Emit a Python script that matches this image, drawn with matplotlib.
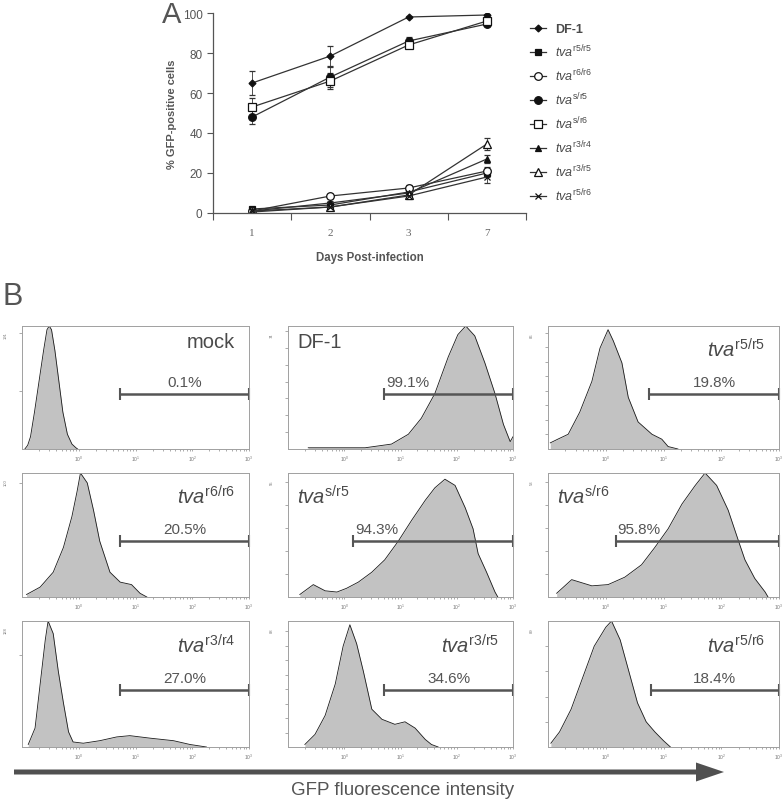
import matplotlib
matplotlib.use("Agg")
import matplotlib.pyplot as plt
import numpy as np
from matplotlib.lines import Line2D
from matplotlib.ticker import LogLocator, NullFormatter, FixedLocator

plt.rcParams['font.family'] = ['Liberation Sans', 'DejaVu Sans']
plt.rcParams['mathtext.fontset'] = 'custom'
plt.rcParams['mathtext.rm'] = 'Liberation Sans'
plt.rcParams['mathtext.it'] = 'Liberation Sans:italic'
plt.rcParams['mathtext.bf'] = 'Liberation Sans:bold'

TXT = "#4a4a4a"

# ---------------- panel A data ----------------
DAYS = ["1", "2", "3", "7"]
SERIES = ["DF-1", "r5/r5", "r6/r6", "s/r5", "s/r6", "r3/r4", "r3/r5", "r5/r6"]
df1 = [65, 78.5, 98, 99]
r5r5 = [2, 4, 10.5, 20]
r6r6 = [1, 8.5, 12.5, 21]
sr5 = [48, 68, 86, 94.5]
sr6 = [53, 66, 84, 96]
r3r4 = [1, 5, 10, 27]
r3r5 = [0.5, 3, 9, 34.5]
r5r6 = [1, 3, 8.5, 18]
err_df1 = [6, 5, 0.6, 0.6]
err_r5r5 = [0.8, 0.8, 1.5, 2]
err_r6r6 = [0.5, 1, 1.5, 2]
err_sr5 = [3.5, 5, 2, 1]
err_sr6 = [4.5, 4, 1.5, 1]
err_r3r4 = [0.5, 1, 1.5, 2]
err_r3r5 = [0.5, 1, 1.5, 3]
err_r5r6 = [0.5, 1, 1.5, 3]

values = [df1, r5r5, r6r6, sr5, sr6, r3r4, r3r5, r5r6]
errors = [err_df1, err_r5r5, err_r6r6, err_sr5, err_sr6, err_r3r4, err_r3r5, err_r5r6]
markers = ["D", "s", "o", "o", "s", "^", "^", "x"]
filled = [True, True, False, True, False, True, False, True]
msizes = [3.5, 5, 5.5, 5.5, 5.5, 5, 5.5, 4.5]

# ---------------- panel B data (log10 intensity, relative count) ----------------
mock_x = [-0.95, -0.9, -0.85, -0.78, -0.7, -0.62, -0.56, -0.52, -0.48, -0.42, -0.35, -0.28, -0.2, -0.12, -0.05, -0.02]
mock_y = [0, 0.03, 0.1, 0.3, 0.55, 0.8, 0.97, 1.0, 0.97, 0.8, 0.55, 0.3, 0.12, 0.04, 0.01, 0]
df1_x = [-0.64, 0.0, 0.37, 0.84, 1.14, 1.37, 1.61, 1.85, 2.02, 2.16, 2.32, 2.5, 2.68, 2.83, 2.95, 3.0]
df1_y = [0.01, 0.01, 0.01, 0.04, 0.12, 0.25, 0.45, 0.75, 0.93, 1.0, 0.92, 0.7, 0.45, 0.2, 0.06, 0.1]
r55_x = [-0.96, -0.83, -0.65, -0.45, -0.24, -0.1, 0.04, 0.13, 0.28, 0.39, 0.56, 0.8, 0.97, 1.08, 1.25]
r55_y = [0.05, 0.08, 0.12, 0.3, 0.55, 0.82, 0.97, 0.88, 0.7, 0.42, 0.22, 0.12, 0.08, 0.02, 0]
r66_x = [-0.92, -0.68, -0.45, -0.27, -0.12, -0.03, 0.03, 0.15, 0.26, 0.37, 0.55, 0.73, 0.93, 1.08, 1.2]
r66_y = [0.02, 0.08, 0.2, 0.4, 0.65, 0.85, 1.0, 0.92, 0.7, 0.45, 0.2, 0.12, 0.1, 0.03, 0]
sr5_x = [-0.79, -0.55, -0.34, -0.13, 0.04, 0.25, 0.49, 0.72, 0.96, 1.2, 1.44, 1.61, 1.79, 1.97, 2.15, 2.29, 2.38, 2.53, 2.68, 2.73]
sr5_y = [0.02, 0.1, 0.05, 0.04, 0.07, 0.12, 0.2, 0.3, 0.45, 0.62, 0.78, 0.88, 0.95, 0.9, 0.72, 0.55, 0.35, 0.2, 0.04, 0]
sr6_x = [-0.85, -0.59, -0.24, 0.04, 0.33, 0.62, 0.85, 1.08, 1.32, 1.55, 1.72, 1.92, 2.12, 2.3, 2.41, 2.58, 2.76, 2.81]
sr6_y = [0.03, 0.14, 0.09, 0.1, 0.16, 0.26, 0.4, 0.55, 0.75, 0.9, 1.0, 0.9, 0.7, 0.45, 0.3, 0.15, 0.04, 0]
r34_x = [-0.89, -0.77, -0.68, -0.59, -0.54, -0.45, -0.36, -0.27, -0.18, -0.1, 0.08, 0.37, 0.67, 0.9, 1.26, 1.67, 1.96, 2.25]
r34_y = [0.02, 0.15, 0.5, 0.85, 1.0, 0.9, 0.6, 0.35, 0.12, 0.04, 0.03, 0.05, 0.08, 0.09, 0.07, 0.05, 0.02, 0]
r35_x = [-0.7, -0.52, -0.34, -0.16, -0.02, 0.1, 0.22, 0.34, 0.49, 0.67, 0.9, 1.08, 1.26, 1.44, 1.55, 1.67]
r35_y = [0.02, 0.1, 0.25, 0.5, 0.8, 0.97, 0.82, 0.6, 0.3, 0.22, 0.18, 0.2, 0.15, 0.06, 0.02, 0]
r56_x = [-0.95, -0.8, -0.6, -0.4, -0.2, 0.0, 0.1, 0.25, 0.4, 0.55, 0.7, 0.85, 1.0, 1.12]
r56_y = [0.03, 0.12, 0.3, 0.55, 0.8, 0.95, 1.0, 0.85, 0.6, 0.35, 0.2, 0.12, 0.05, 0]

hist_x = [mock_x, df1_x, r55_x, r66_x, sr5_x, sr6_x, r34_x, r35_x, r56_x]
hist_y = [mock_y, df1_y, r55_y, r66_y, sr5_y, sr6_y, r34_y, r35_y, r56_y]
hist_names = ["mock", "DF-1", "r5/r5", "r6/r6", "s/r5", "s/r6", "r3/r4", "r3/r5", "r5/r6"]
gate_pct = ["0.1%", "99.1%", "19.8%", "20.5%", "94.3%", "95.8%", "27.0%", "34.6%", "18.4%"]
gate_start = [0.73, 0.71, 0.75, 0.73, 0.16, 0.17, 0.73, 0.71, 0.78]
ymax_label = ["191", "74", "86", "100", "55", "53", "128", "88", "89"]

fig = plt.figure(figsize=(7.84, 8.04), dpi=100)
W, H = 784.0, 804.0


def frect(l, t, r, b):
    return [l / W, 1 - b / H, (r - l) / W, (b - t) / H]


# ---------------- panel A ----------------
ax = fig.add_axes(frect(213, 14, 526, 214))
xs = np.arange(1, len(DAYS) + 1)
handles = []
labels = []
for name, v, e, m, f, ms in zip(SERIES, values, errors, markers, filled, msizes):
    mfc = "#111111" if f else "white"
    ax.errorbar(xs, v, yerr=e, color="#333333", lw=0.9, elinewidth=0.6, capsize=2,
                marker=m, ms=ms, mfc=mfc, mec="#111111", mew=0.9)
    handles.append(Line2D([], [], color="#333333", lw=0.9, marker=m, ms=ms, mfc=mfc,
                          mec="#111111", mew=0.9))
    labels.append("DF-1" if name == "DF-1" else r"$\mathit{tva}^{\mathrm{%s}}$" % name)
ax.set_xlim(0.5, 4.5)
ax.set_ylim(0, 100)
ax.set_yticks(np.arange(0, 101, 20))
ax.set_xticks([0.5, 1.5, 2.5, 3.5, 4.5])
ax.set_xticklabels([])
ax.set_xticks(xs, minor=True)
ax.set_xticklabels(DAYS, minor=True, fontfamily="Liberation Serif", fontsize=8, color="#666666")
ax.tick_params(axis="x", which="minor", length=0, pad=11)
ax.tick_params(axis="x", which="major", length=5, color="#555555")
ax.tick_params(axis="y", length=4, color="#555555", labelsize=8.5, labelcolor="#555555")
for s in ["top", "right"]:
    ax.spines[s].set_visible(False)
for s in ["left", "bottom"]:
    ax.spines[s].set_color("#555555")
    ax.spines[s].set_linewidth(0.9)
ax.set_ylabel("% GFP-positive cells", fontsize=8, fontweight="bold", color="#555555", labelpad=4)
ax.set_xlabel("Days Post-infection", fontsize=8.3, fontweight="bold", color="#555555", labelpad=10)

leg = ax.legend(handles, labels, loc="upper left", bbox_to_anchor=(530 / W, 1 - 24 / H),
                bbox_transform=fig.transFigure, frameon=False, fontsize=9, handlelength=1.3,
                handletextpad=0.7, labelspacing=0.6, borderpad=0, borderaxespad=0)
for t in leg.get_texts():
    t.set_color(TXT)
leg.get_texts()[0].set_fontweight("bold")

# ---------------- panel B ----------------
col_l = [22, 288, 548]
col_r = [249, 513, 779]
row_t = [327, 474, 622]
row_b = [450, 598, 748]
ytick_step = [0.47, 0.137, 0.118, 0.92, 0.185, 0.185, 0.73, 0.115, 0.2]
left_label = ["DF-1", "s/r5", "s/r6"]

for i in range(9):
    r, c = divmod(i, 3)
    hx = fig.add_axes(frect(col_l[c], row_t[r], col_r[c], row_b[r]))
    x = 10 ** np.array(hist_x[i])
    y = np.array(hist_y[i])
    hx.fill_between(x, y, color="#c2c2c2", lw=0)
    hx.plot(x, y, color="#1a1a1a", lw=0.6)
    hx.set_xscale("log")
    hx.set_xlim(0.1, 1000)
    hx.set_ylim(0, 1.0)
    hx.xaxis.set_major_locator(FixedLocator([1, 10, 100, 1000]))
    hx.set_xticklabels([r"$10^0$", r"$10^1$", r"$10^2$", r"$10^3$"])
    hx.xaxis.set_minor_locator(LogLocator(base=10, subs=np.arange(2, 10)))
    hx.xaxis.set_minor_formatter(NullFormatter())
    hx.tick_params(axis="x", which="both", length=1.5, width=0.5, color="#888888",
                   labelsize=3.5, labelcolor="#777777", pad=2)
    hx.set_yticks(np.arange(ytick_step[i], 0.99, ytick_step[i]))
    hx.set_yticklabels([])
    hx.tick_params(axis="y", length=2, width=0.5, color="#888888")
    hx.text(-0.07, 0.93, ymax_label[i], transform=hx.transAxes, rotation=90, fontsize=3,
            color="#777777", ha="center", va="center")
    for s in hx.spines.values():
        s.set_color("#a0a0a0")
        s.set_linewidth(0.7)

    gy = 0.45
    g0 = 10 ** gate_start[i]
    hx.plot([g0, 1000], [gy, gy], color="#555555", lw=1.8, marker="|", ms=9, mew=1.5,
            clip_on=False, solid_capstyle="butt")
    name = hist_names[i]
    if name in left_label:
        hx.text(g0 * 1.08, gy + 0.04, gate_pct[i], fontsize=11, color="#555555", ha="left", va="bottom")
    else:
        hx.text(np.sqrt(g0 * 1000), gy + 0.04, gate_pct[i], fontsize=11, color="#555555",
                ha="center", va="bottom")
    if name in ["mock", "DF-1"]:
        lbl = name
        ly = 0.87
        va = "center"
    else:
        lbl = r"$\mathit{tva}^{\mathrm{%s}}$" % name
        ly = 0.75
        va = "baseline"
    if name in left_label:
        hx.text(0.04, ly, lbl, transform=hx.transAxes, fontsize=14.5, color=TXT, ha="left", va=va)
    else:
        hx.text(0.94, ly, lbl, transform=hx.transAxes, fontsize=14.5, color=TXT, ha="right", va=va)

# ---------------- overlay: panel letters, arrow, axis caption ----------------
ov = fig.add_axes([0, 0, 1, 1])
ov.set_xlim(0, W)
ov.set_ylim(H, 0)
ov.axis("off")
ov.patch.set_alpha(0)
ov.text(172, 15, "A", fontsize=21, color="#555555", ha="center", va="center")
ov.text(13, 297, "B", fontsize=22, color="#555555", ha="center", va="center")
ov.arrow(14, 773, 710, 0, width=5, head_width=19, head_length=28, length_includes_head=True,
         color="#505050", lw=0)
ov.text(403, 791, "GFP fluorescence intensity", fontsize=13.5, color="#555555", ha="center",
        va="center")

fig.savefig("out.png", dpi=100)
